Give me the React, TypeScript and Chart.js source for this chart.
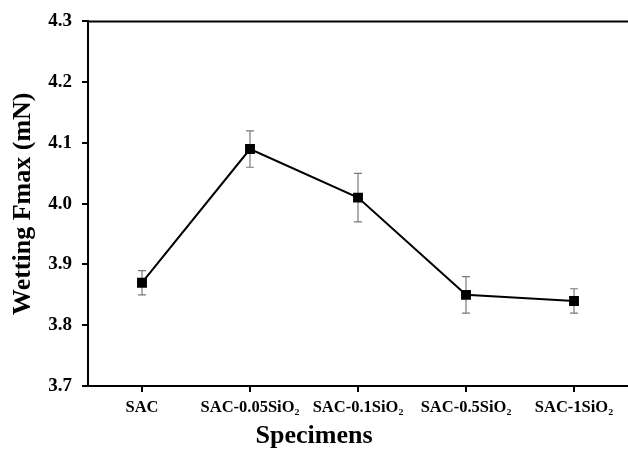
import React, { useEffect, useRef } from "react";
import { Chart, registerables } from "chart.js";

Chart.register(...registerables);

const categories = ["SAC", "SAC-0.05SiO₂", "SAC-0.1SiO₂", "SAC-0.5SiO₂", "SAC-1SiO₂"];
const fmaxValues = [3.87, 4.09, 4.01, 3.85, 3.84];
const fmaxErrors = [0.02, 0.03, 0.04, 0.03, 0.02];
const yTicks = [3.7, 3.8, 3.9, 4.0, 4.1, 4.2, 4.3];
const xTitle = "Specimens";
const yTitle = "Wetting Fmax (mN)";

const FONT = "'Liberation Serif', 'Times New Roman', serif";

const errorBarPlugin = {
  id: "errorBars",
  beforeDatasetsDraw(chart: any) {
    const { ctx, scales } = chart;
    const xs = scales.x;
    const ys = scales.y;
    ctx.save();
    ctx.strokeStyle = "#7a7a7a";
    ctx.lineWidth = 1.2;
    fmaxValues.forEach((v, i) => {
      const x = xs.getPixelForValue(i);
      const yt = ys.getPixelForValue(v + fmaxErrors[i]);
      const yb = ys.getPixelForValue(v - fmaxErrors[i]);
      ctx.beginPath();
      ctx.moveTo(x, yt);
      ctx.lineTo(x, yb);
      ctx.moveTo(x - 4, yt);
      ctx.lineTo(x + 4, yt);
      ctx.moveTo(x - 4, yb);
      ctx.lineTo(x + 4, yb);
      ctx.stroke();
    });
    ctx.restore();
  },
  afterDraw(chart: any) {
    const { ctx, chartArea } = chart;
    ctx.save();
    ctx.strokeStyle = "#000";
    ctx.lineWidth = 2;
    ctx.beginPath();
    ctx.moveTo(chartArea.left, chartArea.top);
    ctx.lineTo(chart.width, chartArea.top);
    ctx.moveTo(chartArea.right, chartArea.bottom);
    ctx.lineTo(chart.width, chartArea.bottom);
    ctx.stroke();
    // x axis title, centred on the figure as in the original
    ctx.fillStyle = "#000";
    ctx.font = `bold 26px ${FONT}`;
    ctx.textAlign = "center";
    ctx.textBaseline = "middle";
    ctx.fillText(xTitle, chart.width / 2, chart.height - 13);
    ctx.restore();
  },
};

export default function App() {
  const ref = useRef<HTMLCanvasElement | null>(null);
  useEffect(() => {
    if (!ref.current) return;
    const chart = new Chart(ref.current, {
      type: "line",
      data: {
        labels: categories,
        datasets: [
          {
            data: fmaxValues,
            borderColor: "#000",
            backgroundColor: "#000",
            borderWidth: 2,
            pointStyle: "rect",
            pointRadius: 7,
            pointHoverRadius: 7,
            pointBackgroundColor: "#000",
            pointBorderColor: "#000",
            pointBorderWidth: 0,
            tension: 0,
          },
        ],
      },
      options: {
        responsive: false,
        animation: false,
        maintainAspectRatio: false,
        layout: { autoPadding: false, padding: { top: 20, right: 0, left: 0, bottom: 0 } },
        plugins: {
          legend: { display: false },
          tooltip: { enabled: false },
        },
        scales: {
          x: {
            type: "category",
            offset: true,
            afterFit(scale: any) {
              scale.height = 63;
            },
            grid: {
              offset: false,
              drawOnChartArea: false,
              drawTicks: true,
              tickLength: 6,
              color: "#000",
              lineWidth: 2,
            },
            border: { display: true, color: "#000", width: 2 },
            ticks: {
              color: "#000",
              font: { family: FONT, size: 16.5, weight: "bold" },
              maxRotation: 0,
              autoSkip: false,
              padding: 6,
            },
            title: { display: false },
          },
          y: {
            type: "linear",
            min: 3.7,
            max: 4.3,
            afterFit(scale: any) {
              scale.width = 88;
            },
            afterBuildTicks(scale: any) {
              scale.ticks = yTicks.map((v) => ({ value: v }));
            },
            grid: {
              drawOnChartArea: false,
              drawTicks: true,
              tickLength: 6,
              color: "#000",
              lineWidth: 2,
            },
            border: { display: true, color: "#000", width: 2 },
            ticks: {
              color: "#000",
              font: { family: FONT, size: 19, weight: "bold" },
              padding: 10,
              callback: (v: any) => Number(v).toFixed(1),
            },
            title: {
              display: true,
              text: yTitle,
              color: "#000",
              font: { family: FONT, size: 26, weight: "bold" },
              padding: { top: 8, bottom: 0 },
            },
          },
        },
      },
      plugins: [errorBarPlugin],
    } as any);
    return () => chart.destroy();
  }, []);
  return (
    <div style={{ position: "fixed", left: 0, top: 0, width: 628, height: 449, background: "#fff" }}>
      <canvas ref={ref} width={628} height={449} style={{ display: "block" }} />
    </div>
  );
}
